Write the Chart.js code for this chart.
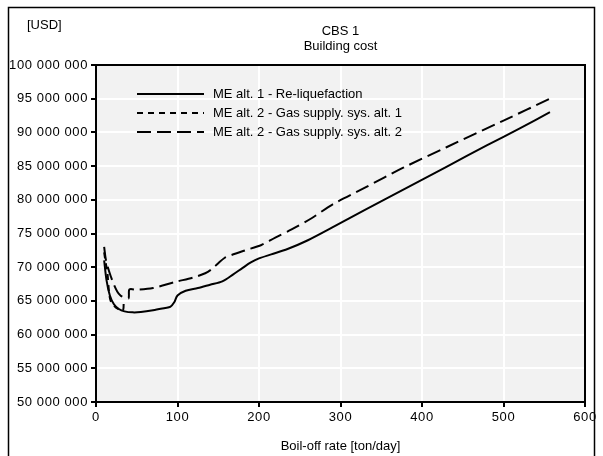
<!DOCTYPE html>
<html>
<head>
<meta charset="utf-8">
<script src="https://cdn.jsdelivr.net/npm/chart.js@4"></script>
<style>
  html, body { margin: 0; padding: 0; background: #fff; }
  #wrap { width: 603px; height: 456px; }
</style>
</head>
<body>
<div id="wrap"><canvas id="chart" width="603" height="456"></canvas></div>
<script>
// Building cost vs boil-off rate, values in million USD
const seriesNames = [
  'ME alt. 1 - Re-liquefaction',
  'ME alt. 2 - Gas supply. sys. alt. 1',
  'ME alt. 2 - Gas supply. sys. alt. 2'
];

const reliqRate = [10, 13, 17, 22, 28, 35, 45, 55, 70, 85, 91, 96, 100, 110, 125, 140, 155, 168, 180, 190, 200, 215, 235, 260, 290, 330, 380, 430, 480, 520, 557];
const reliqCost = [71.0, 68.0, 65.8, 64.5, 63.8, 63.45, 63.3, 63.35, 63.6, 63.95, 64.1, 64.8, 65.8, 66.5, 66.9, 67.4, 67.9, 68.9, 69.9, 70.7, 71.3, 71.9, 72.7, 74.0, 75.9, 78.5, 81.7, 84.9, 88.1, 90.6, 93.0];

const gas1Rate = [10, 12, 14, 16, 18, 22, 27, 33, 34];
const gas1Cost = [72.2, 70.6, 69.2, 66.3, 65.0, 64.3, 63.8, 63.55, 65.2];

const gas2Rate = [10, 12, 15, 18, 22, 26, 30, 35, 40, 41, 50, 70, 97, 120, 134, 142, 150, 158, 166, 183, 203, 220, 240, 265, 290, 330, 377, 430, 500, 557];
const gas2Cost = [73.0, 71.2, 69.8, 68.7, 67.4, 66.4, 65.8, 65.5, 65.4, 66.7, 66.65, 66.9, 67.8, 68.5, 69.1, 69.7, 70.6, 71.4, 71.8, 72.5, 73.3, 74.4, 75.6, 77.3, 79.3, 81.8, 84.76, 87.8, 91.75, 95.0];

const dashes = [[], [6, 5], [14, 6]];

function toPoints(xs, ys) {
  return xs.map((x, i) => ({ x: x, y: ys[i] * 1e6 }));
}

function fmtSpaced(v) {
  return String(Math.round(v)).replace(/\B(?=(\d{3})+(?!\d))/g, ' ');
}

const FONT = 'Liberation Sans, Arial, sans-serif';

// plot background, frame, titles and in-plot legend
const decor = {
  id: 'decor',
  beforeDraw(chart) {
    const { ctx, chartArea: a } = chart;
    ctx.save();
    ctx.fillStyle = '#f2f2f2';
    ctx.fillRect(a.left, a.top, a.right - a.left, a.bottom - a.top);
    ctx.restore();
    // axis labels are drawn a little wider
    ctx.letterSpacing = '0.6px';
  },
  beforeDatasetsDraw(chart) {
    chart.ctx.letterSpacing = '0px';
  },
  afterDraw(chart) {
    const { ctx, chartArea: a } = chart;
    ctx.save();
    ctx.letterSpacing = '0px';
    ctx.strokeStyle = '#000';
    ctx.lineWidth = 1.5;
    ctx.strokeRect(8.5, 7.5, 586, 470);
    ctx.lineWidth = 2;
    ctx.strokeRect(a.left, a.top, a.right - a.left, a.bottom - a.top);

    ctx.fillStyle = '#000';
    ctx.font = '13px ' + FONT;
    ctx.textBaseline = 'middle';
    ctx.textAlign = 'left';
    ctx.fillText('[USD]', 27, 25);
    ctx.textAlign = 'center';
    const cx = (a.left + a.right) / 2;
    ctx.fillText('CBS 1', cx, 31);
    ctx.fillText('Building cost', cx, 46);
    ctx.fillText('Boil-off rate [ton/day]', cx, 446);

    // legend
    chart.data.datasets.forEach((ds, i) => {
      const y = 94 + i * 19;
      ctx.beginPath();
      ctx.setLineDash(ds.borderDash || []);
      ctx.lineWidth = 2;
      ctx.moveTo(137, y);
      ctx.lineTo(204, y);
      ctx.stroke();
      ctx.setLineDash([]);
      ctx.textAlign = 'left';
      ctx.fillText(ds.label, 213, y);
    });
    ctx.restore();
  }
};

new Chart(document.getElementById('chart'), {
  type: 'line',
  data: {
    datasets: [
      { label: seriesNames[0], data: toPoints(reliqRate, reliqCost), borderDash: dashes[0] },
      { label: seriesNames[1], data: toPoints(gas1Rate, gas1Cost), borderDash: dashes[1] },
      { label: seriesNames[2], data: toPoints(gas2Rate, gas2Cost), borderDash: dashes[2] }
    ].map(ds => Object.assign(ds, {
      borderColor: '#000',
      borderWidth: 2,
      pointRadius: 0,
      tension: 0.3,
      fill: false
    }))
  },
  options: {
    responsive: false,
    animation: false,
    layout: { padding: { left: 0, right: 18, top: 65, bottom: 0 } },
    plugins: { legend: { display: false }, tooltip: { enabled: false } },
    scales: {
      x: {
        type: 'linear',
        min: 0, max: 600,
        afterFit: s => { s.height = 54; },
        ticks: { stepSize: 100, color: '#000', font: { family: FONT, size: 13 }, padding: 3, maxRotation: 0 },
        grid: { color: '#fff', lineWidth: 2, tickColor: '#000', tickLength: 5 },
        border: { color: '#000', width: 2 }
      },
      y: {
        min: 50e6, max: 100e6,
        afterFit: s => { s.width = 96; },
        ticks: { stepSize: 5e6, color: '#000', font: { family: FONT, size: 13 }, padding: 3, callback: v => fmtSpaced(v) },
        grid: { color: '#fff', lineWidth: 2, tickColor: '#000', tickLength: 5 },
        border: { color: '#000', width: 2 }
      }
    }
  },
  plugins: [decor]
});
</script>
</body>
</html>
